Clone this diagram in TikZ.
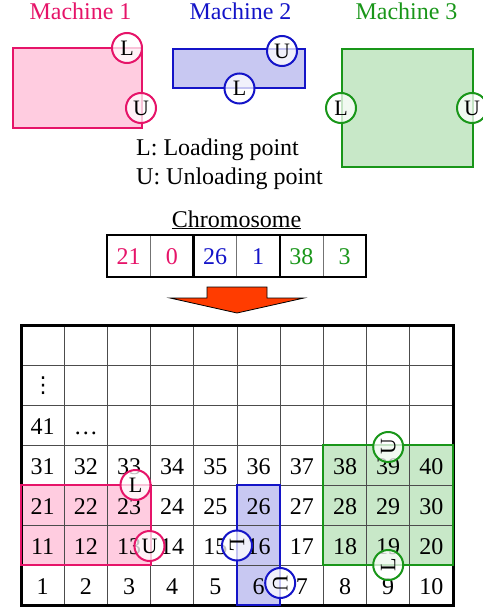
\documentclass[tikz,border=0pt]{standalone}
\usepackage{fontspec}
\setmainfont{Liberation Serif}
\newfontfamily\dvsfont{DejaVu Sans}
\definecolor{pk}{RGB}{230,20,105}
\definecolor{pkf}{RGB}{255,204,224}
\definecolor{bl}{RGB}{20,20,200}
\definecolor{blf}{RGB}{200,200,242}
\definecolor{gr}{RGB}{25,150,25}
\definecolor{grf}{RGB}{200,232,200}
\definecolor{arr}{RGB}{255,60,0}
\begin{document}
\begin{tikzpicture}[x=1pt,y=-1pt,
  font=\fontsize{24}{28}\selectfont,
  txt/.style={anchor=base,inner sep=0pt},
  mach/.style={rectangle,draw=#1,fill=#1f,line width=2pt,inner sep=0pt},
  port/.style={circle,draw=#1,line width=2pt,minimum size=30pt,inner sep=0pt,fill=white,fill opacity=0.75,text opacity=1,font=\fontsize{22}{24}\selectfont},
  gline/.style={draw=black!70,line width=0.9pt},
  thinsep/.style={draw=black!55,line width=1pt},
  thicksep/.style={draw=black,line width=2.5pt}
]
\useasboundingbox (0,0) rectangle (482,610);

% ---------- top machines ----------
\node[txt,text=pk] (T1) at (80.5,20) {Machine 1};
\node[txt,text=bl] (T2) at (240.5,20) {Machine 2};
\node[txt,text=gr] (T3) at (406.5,20) {Machine 3};

\node[mach=pk,minimum width=129pt,minimum height=80pt] (M1) at (77.5,88) {};
\node[mach=bl,minimum width=132pt,minimum height=39pt] (M2) at (239,68.5) {};
\node[mach=gr,minimum width=131pt,minimum height=118pt] (M3) at (407.5,108) {};

\node[port=pk] (M1L) at (127,48) {L};
\node[port=pk] (M1U) at (141,108) {U};
\node[port=bl] (M2U) at (282,51) {U};
\node[port=bl] (M2L) at (239.5,88.5) {L};
\node[port=gr] (M3L) at (341,108) {L};
\node[port=gr] (M3U) at (472,108) {U};

% ---------- legend ----------
\node[inner sep=0pt,anchor=base west] (LL) at (136,155) {L: Loading point};
\node[inner sep=0pt,anchor=base west] (LU) at (136,184) {U: Unloading point};

% ---------- chromosome ----------
\node[txt] (CT) at (236.5,227) {\underline{Chromosome}};
\foreach \i/\v/\c in {0/21/pk,1/0/pk,2/26/bl,3/1/bl,4/38/gr,5/3/gr}
  \node[txt,text=\c] (c\i) at ({128.6+43.2*\i},264) {\v};
\foreach \i in {1,3,5}
  \draw[thinsep] ({107+43.2*\i},235) -- ({107+43.2*\i},277);
\foreach \i in {2,4}
  \draw[thicksep] ({107+43.2*\i},235) -- ({107+43.2*\i},277);
\draw[line width=2.5pt] (107,235) rectangle (366,277);

% ---------- arrow ----------
\draw[fill=arr,draw=black,line width=0.8pt,line join=miter]
  (207,287) -- (267,287) -- (267,298) -- (304,298) -- (237,313)
  -- (170,298) -- (207,298) -- cycle;

% ---------- grid ----------
\fill[pkf] (21,485) rectangle (150.6,565);
\fill[blf] (237,485) rectangle (280.2,605);
\fill[grf] (323.4,445) rectangle (453,565);

\foreach \c in {1,...,9}
  \draw[gline] ({21+43.2*\c},325) -- ({21+43.2*\c},605);
\foreach \r in {1,...,6}
  \draw[gline] (21,{325+40*\r}) -- (453,{325+40*\r});

\foreach \r/\b in {3/31,4/21,5/11,6/1} {
  \foreach \c in {0,...,9} {
    \pgfmathtruncatemacro\n{\b+\c}
    \node[txt] (g\n) at ({42.6+43.2*\c},{354+40*\r}) {\n};
  }
}
\node[txt] (g41) at (42.6,434) {41};
\node[txt] (gdots) at (85.8,434) {\ldots};
\node[inner sep=0pt,font=\dvsfont\fontsize{22}{24}\selectfont] (gvd) at (43,386) {⋮};

\draw[line width=3pt] (21,325) rectangle (453,605);

\draw[pk,line width=2pt] (21,485) rectangle (150.6,565);
\draw[bl,line width=2pt] (237,485) rectangle (280.2,605);
\draw[gr,line width=2pt] (323.4,445) rectangle (453,565);

\node[port=pk] (G1L) at (135.5,485) {L};
\node[port=pk] (G1U) at (149.5,546) {U};
\node[port=bl,rotate=-90] (G2L) at (237,545.5) {L};
\node[port=bl,rotate=-90] (G2U) at (280.2,583) {U};
\node[port=gr,rotate=90] (G3U) at (388.2,447) {U};
\node[port=gr,rotate=90] (G3L) at (388.2,565) {L};
\end{tikzpicture}
\end{document}
